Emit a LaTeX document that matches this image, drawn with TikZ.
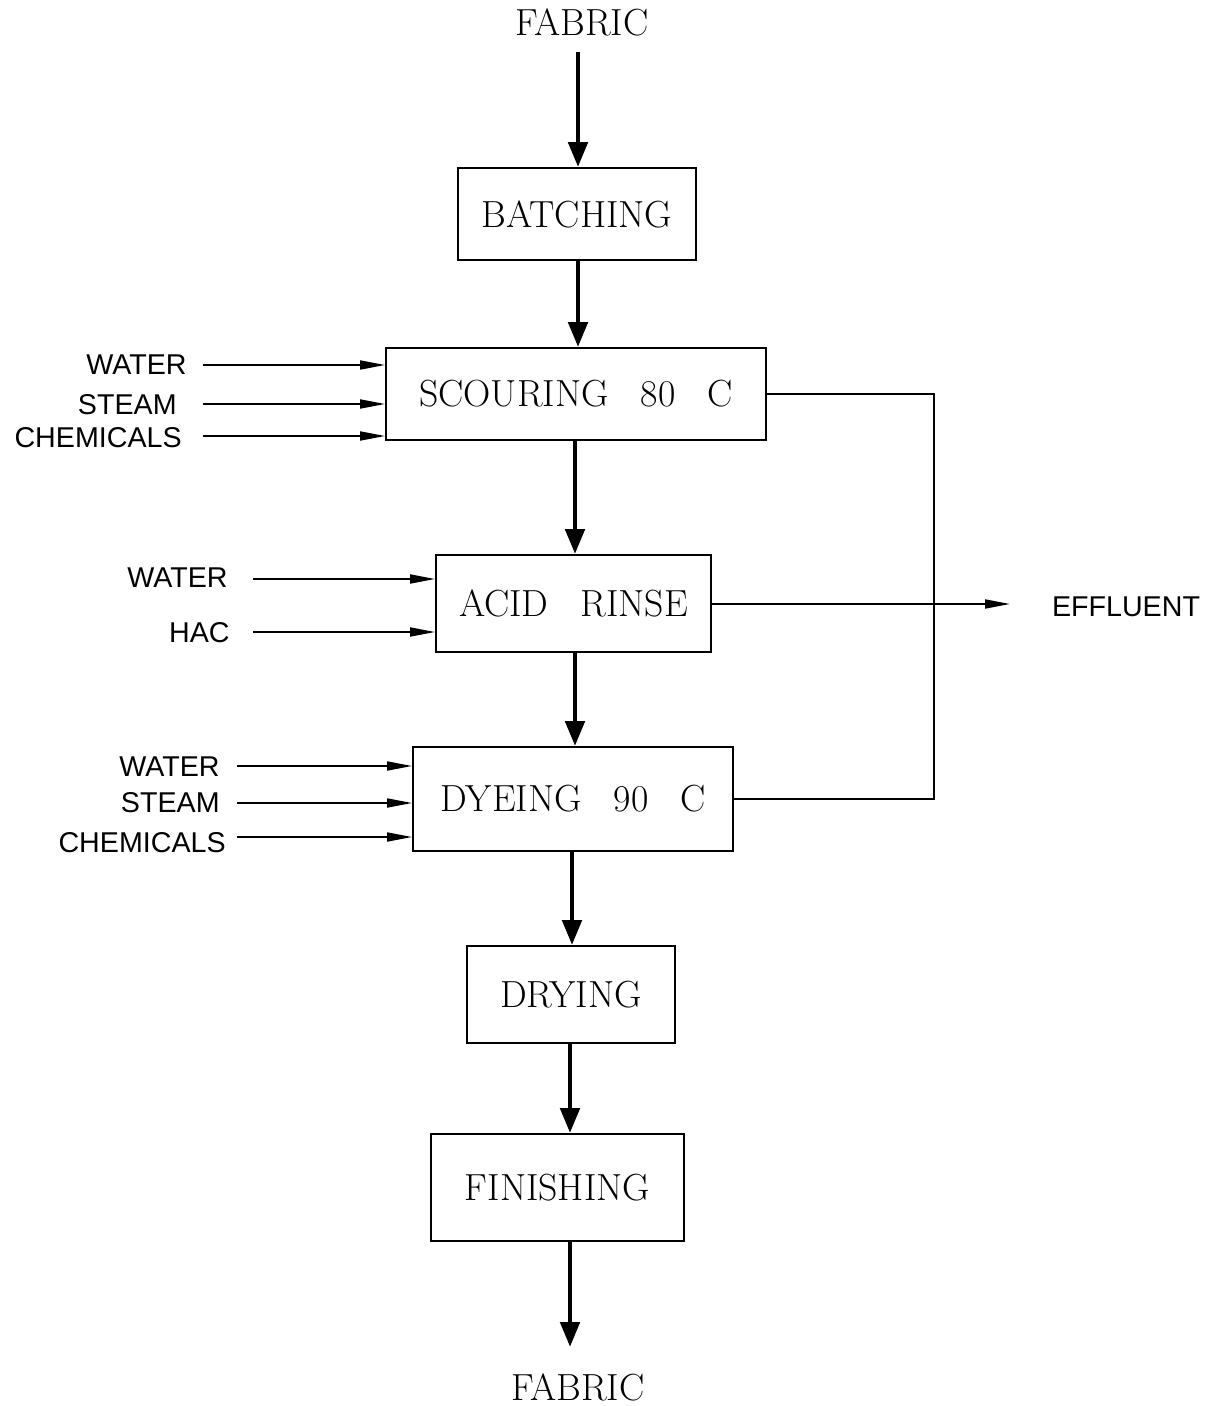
\documentclass[tikz,border=0pt]{standalone}
\usepackage{fontspec}
\newfontfamily\labfont{Liberation Sans}
\usetikzlibrary{arrows.meta,calc}
\begin{document}
\begin{tikzpicture}[x=0.02cm,y=-0.02cm,
  box/.style={draw,line width=1.1pt,inner sep=0pt,font=\fontsize{21.5}{25}\selectfont},
  ttl/.style={font=\fontsize{21.5}{25}\selectfont,inner sep=0pt},
  lab/.style={font=\labfont\fontsize{16.3}{19}\selectfont,inner sep=0pt,anchor=east},
  bigarr/.style={line width=2.8pt,-{Triangle[length=0.5cm,width=0.38cm]}},
  smarr/.style={line width=1pt,-{Triangle[length=0.5cm,width=0.18cm]}},
  pipe/.style={line width=1pt}]
\useasboundingbox (0,0) rectangle (1213,1406);
\def\sp{\hspace{0.85em}}
% titles
\node[ttl] (fin0) at (582,22) {FABRIC};
\node[ttl] (fout) at (578,1387) {FABRIC};
% boxes
\node[box,minimum width=4.76cm,minimum height=1.84cm] (batch) at (577,214) {BATCHING};
\node[box,minimum width=7.6cm,minimum height=1.84cm] (scour) at (576,394) {SCOURING\sp 80\sp C};
\node[box,minimum width=5.5cm,minimum height=1.94cm] (acid) at (573.5,603.5) {ACID\sp RINSE};
\node[box,minimum width=6.4cm,minimum height=2.08cm] (dye) at (573,799) {DYEING\sp 90\sp C};
\node[box,minimum width=4.16cm,minimum height=1.94cm] (dry) at (571,994.5) {DRYING};
\node[box,minimum width=5.06cm,minimum height=2.14cm] (fin) at (557.5,1187.5) {FINISHING};
% main flow
\coordinate (t0) at (578,52);
\draw[bigarr] (t0) -- (t0 |- batch.north);
\coordinate (t1) at (578,0);
\draw[bigarr] (t1 |- batch.south) -- (t1 |- scour.north);
\coordinate (t2) at (575,0);
\draw[bigarr] (t2 |- scour.south) -- (t2 |- acid.north);
\draw[bigarr] (t2 |- acid.south) -- (t2 |- dye.north);
\coordinate (t3) at (572,0);
\draw[bigarr] (t3 |- dye.south) -- (t3 |- dry.north);
\coordinate (t4) at (570,0);
\draw[bigarr] (t4 |- dry.south) -- (t4 |- fin.north);
\coordinate (t5) at (570,1347);
\draw[bigarr] (t4 |- fin.south) -- (t5);
% scouring inputs
\node[lab] (sw) at (187,365) {WATER};
\node[lab] (ss) at (177,405) {STEAM};
\node[lab] (sc) at (182,438) {CHEMICALS};
\coordinate (sw0) at (203,365);
\coordinate (ss0) at (203,404);
\coordinate (sc0) at (203,436);
\draw[smarr] (sw0) -- (sw0 -| scour.west);
\draw[smarr] (ss0) -- (ss0 -| scour.west);
\draw[smarr] (sc0) -- (sc0 -| scour.west);
% acid rinse inputs
\node[lab] (aw) at (228,578) {WATER};
\node[lab] (ah) at (230,633) {HAC};
\coordinate (aw0) at (253,579);
\coordinate (ah0) at (253,632);
\draw[smarr] (aw0) -- (aw0 -| acid.west);
\draw[smarr] (ah0) -- (ah0 -| acid.west);
% dyeing inputs
\node[lab] (dw) at (220,767) {WATER};
\node[lab] (ds) at (220,803) {STEAM};
\node[lab] (dc) at (226,843) {CHEMICALS};
\coordinate (dw0) at (237,766);
\coordinate (ds0) at (237,803);
\coordinate (dc0) at (237,837);
\draw[smarr] (dw0) -- (dw0 -| dye.west);
\draw[smarr] (ds0) -- (ds0 -| dye.west);
\draw[smarr] (dc0) -- (dc0 -| dye.west);
% effluent
\coordinate (ej) at (934,394);
\draw[pipe] (scour.east) -- (ej) |- (dye.east);
\node[lab,anchor=center] (eff) at (1126,607) {EFFLUENT};
\coordinate (ee) at (1010,604);
\draw[smarr] (acid.east |- ee) -- (ee);
\end{tikzpicture}
\end{document}
